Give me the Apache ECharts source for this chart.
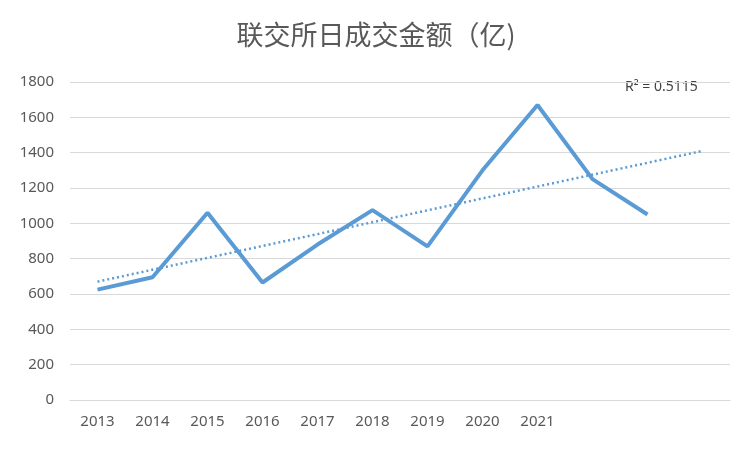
<!DOCTYPE html>
<html><head><meta charset="utf-8">
<script src="https://cdn.jsdelivr.net/npm/echarts@6/dist/echarts.min.js"></script>
<style>html,body{margin:0;padding:0;background:#fff}#c{width:752px;height:450px}</style>
</head><body><div id="c"></div>
<script>
const categories = ['2013','2014','2015','2016','2017','2018','2019','2020','2021','','',''];
const values = [625, 695, 1060, 665, 880, 1075, 870, 1300, 1670, 1250, 1050];
const trendStart = 670;
const trendEnd = 1410;
const yTicks = [0,200,400,600,800,1000,1200,1400,1600,1800];
const chart = echarts.init(document.getElementById('c'));
chart.setOption({
  animation:false,
  title:{text:'联交所日成交金额（亿)',left:'center',top:16,textStyle:{fontFamily:'Noto Sans CJK SC',fontSize:27,fontWeight:'normal',color:'#595959'}},
  grid:{left:70,right:22,top:82,bottom:50},
  xAxis:{type:'category',data:categories,boundaryGap:true,
    axisLine:{lineStyle:{color:'#d9d9d9'}},axisTick:{show:false},
    axisLabel:{color:'#595959',fontSize:15,fontFamily:'Noto Sans',margin:14}},
  yAxis:{type:'value',min:yTicks[0],max:yTicks[yTicks.length-1],interval:200,
    axisLine:{show:false},axisTick:{show:false},
    splitLine:{lineStyle:{color:'#d9d9d9',width:1}},
    axisLabel:{color:'#595959',fontSize:15,fontFamily:'Noto Sans',margin:16,formatter:v=>String(v)}},
  graphic:[{type:'text',left:625,top:80,style:{text:'R² = 0.5115',fill:'#404040',font:'14px Noto Sans'}}],
  series:[
    {type:'line',data:values,symbol:'none',lineStyle:{color:'#5b9bd5',width:4},z:3},
    {type:'line',data:[[0,trendStart],[11,trendEnd]],symbol:'none',lineStyle:{color:'#5b9bd5',width:2.5,type:[2,3]},z:2}
  ]
});
</script></body></html>
